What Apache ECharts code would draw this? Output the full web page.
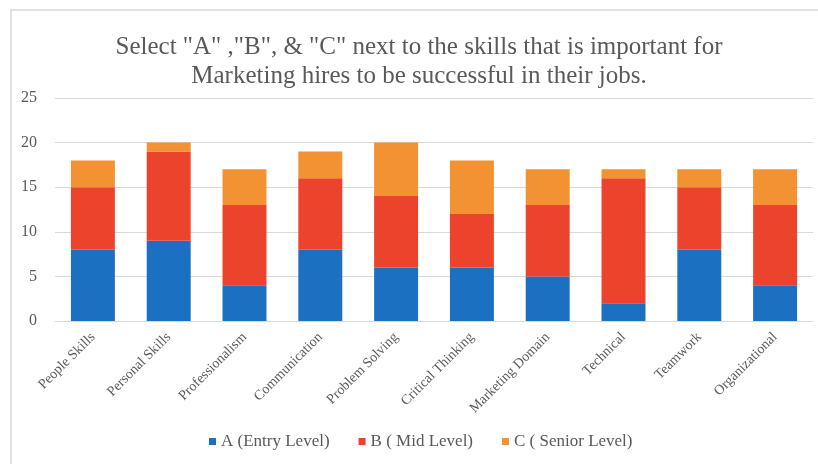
<!DOCTYPE html>
<html>
<head>
<meta charset="utf-8">
<script src="https://cdn.jsdelivr.net/npm/echarts@6/dist/echarts.min.js"></script>
<style>html,body{margin:0;padding:0;background:#fff;}#c{width:818px;height:464px;}</style>
</head>
<body>
<div id="c"></div>
<script>
const categories = ["People Skills","Personal Skills","Professionalism","Communication","Problem Solving","Critical Thinking","Marketing Domain","Technical","Teamwork","Organizational"];
const entryLevel = [8, 9, 4, 8, 6, 6, 5, 2, 8, 4];
const midLevel = [7, 10, 9, 8, 8, 6, 8, 14, 7, 9];
const seniorLevel = [3, 1, 4, 3, 6, 6, 4, 1, 2, 4];
const seriesNames = ["A (Entry Level)", "B ( Mid Level)", "C ( Senior Level)"];
const titleLines = ['Select "A" ,"B", & "C" next to the skills that is important for', 'Marketing hires to be successful in their jobs.'];

const serif = '"Liberation Serif","DejaVu Serif",serif';
const chart = echarts.init(document.getElementById('c'));
chart.setOption({
  animation: false,
  color: ['#1c70c1', '#ec432c', '#f29232'],
  graphic: [{
    type: 'rect', shape: {x: 11, y: 10, width: 820, height: 470},
    style: {fill: 'none', stroke: '#d9d9d9', lineWidth: 1.5}, silent: true
  }, {
    type: 'text', x: 419, y: 47, silent: true,
    style: {text: titleLines[0], fontFamily: serif, fontSize: 25, fill: '#595959', align: 'center', verticalAlign: 'middle'}
  }, {
    type: 'text', x: 419, y: 76, silent: true,
    style: {text: titleLines[1], fontFamily: serif, fontSize: 25, fill: '#595959', align: 'center', verticalAlign: 'middle'}
  }],
  legend: {
    bottom: 9, left: 204, itemWidth: 7, itemHeight: 7, itemGap: 29,
    icon: 'rect',
    textStyle: {fontFamily: serif, fontSize: 17, color: '#595959'}
  },
  grid: {left: 55, right: 5, top: 98, bottom: 143},
  xAxis: {
    type: 'category', data: categories,
    axisLine: {lineStyle: {color: '#d9d9d9', width: 1}},
    axisTick: {show: false},
    axisLabel: {rotate: 45, fontFamily: serif, fontSize: 14, color: '#595959', margin: 14, interval: 0}
  },
  yAxis: {
    type: 'value', min: 0, max: 25, interval: 5,
    axisLine: {show: false}, axisTick: {show: false},
    splitLine: {lineStyle: {color: '#d9d9d9', width: 1}},
    axisLabel: {fontFamily: serif, fontSize: 16, color: '#595959', margin: 18}
  },
  series: [
    {name: seriesNames[0], type: 'bar', stack: 's', data: entryLevel, barWidth: '58%'},
    {name: seriesNames[1], type: 'bar', stack: 's', data: midLevel},
    {name: seriesNames[2], type: 'bar', stack: 's', data: seniorLevel}
  ]
});
</script>
</body>
</html>
